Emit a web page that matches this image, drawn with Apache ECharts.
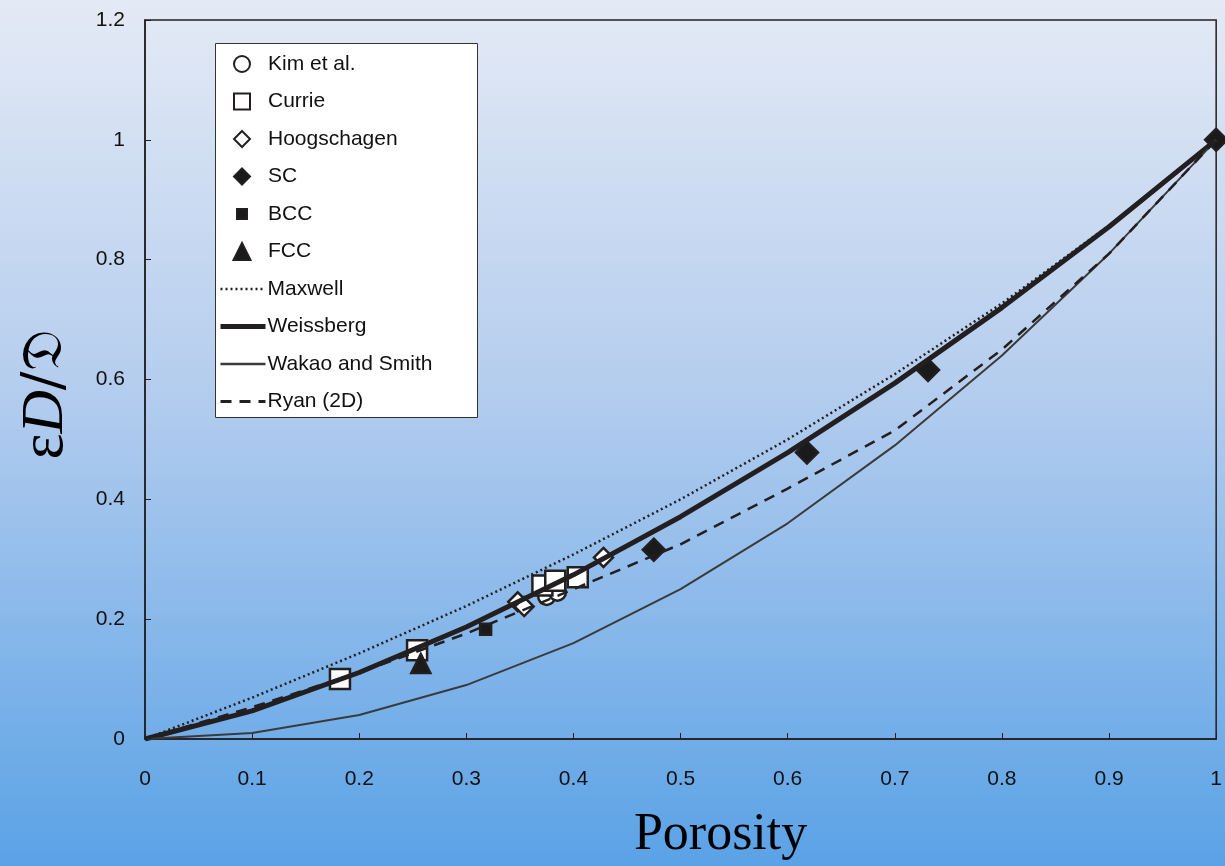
<!DOCTYPE html>
<html><head><meta charset="utf-8">
<script src="https://cdn.jsdelivr.net/npm/echarts@6/dist/echarts.min.js"></script>
<style>html,body{margin:0;padding:0;}#c{width:1225px;height:866px;}</style>
</head><body><div id="c"></div>
<script>
// ---- data ----
const kim = [[0.375, 0.238], [0.385, 0.245]];
const currie = [[0.182, 0.100], [0.254, 0.148], [0.371, 0.256], [0.383, 0.264], [0.404, 0.270]];
const hoogschagen = [[0.348, 0.229], [0.354, 0.221], [0.428, 0.303]];
const sc = [[0.475, 0.316], [0.618, 0.478], [0.731, 0.616], [1.0, 1.0]];
const bcc = [[0.318, 0.183]];
const fcc = [[0.2575, 0.126]];
const porosity = [0, 0.1, 0.2, 0.3, 0.4, 0.5, 0.6, 0.7, 0.8, 0.9, 1.0];
const maxwell = [0, 0.069, 0.143, 0.222, 0.308, 0.400, 0.500, 0.609, 0.727, 0.857, 1.0];
const weissberg = [0, 0.047, 0.111, 0.187, 0.274, 0.371, 0.478, 0.594, 0.720, 0.855, 1.0];
const wakaoSmith = [0, 0.010, 0.040, 0.090, 0.160, 0.250, 0.360, 0.490, 0.640, 0.810, 1.0];
const ryan2D = [0, 0.053, 0.111, 0.176, 0.250, 0.325, 0.418, 0.515, 0.650, 0.810, 1.0];
const xTicks = ['0','0.1','0.2','0.3','0.4','0.5','0.6','0.7','0.8','0.9','1'];
const yTicks = ['0','0.2','0.4','0.6','0.8','1','1.2'];

const pair = (xs, ys) => xs.map((x, i) => [x, ys[i]]);
const INK = '#231f20';
const FONT = 'Liberation Sans, Arial';
const chart = echarts.init(document.getElementById('c'));
const mk = (name, data, symbol, size, fill) => ({
  name, type: 'scatter', data, symbol, symbolSize: size,
  itemStyle: { color: fill, borderColor: INK, borderWidth: 2.5, opacity: 1 }, z: 2
});
const ln = (name, data, width, type, color) => ({
  name, type: 'line', data: pair(porosity, data), symbol: 'none', smooth: false,
  lineStyle: { color: color || INK, width, type }, itemStyle: { color: color || INK }, z: 3
});
const legendText = { fontFamily: FONT, fontSize: 21, color: '#111' };
const markerLegend = (names, left, top, size, padLeft) => ({
  orient: 'vertical', left, top, padding: 0, itemGap: 16.5,
  itemWidth: size, itemHeight: size, z: 5,
  itemStyle: { borderWidth: 2 },
  textStyle: Object.assign({ padding: [0, 0, 0, padLeft] }, legendText),
  data: names
});
chart.setOption({
  animation: false,
  backgroundColor: { type: 'linear', x: 0, y: 0, x2: 0, y2: 1,
    colorStops: [{ offset: 0, color: '#e4eaf5' }, { offset: 0.45, color: '#b4cdee' }, { offset: 1, color: '#5aa2e6' }] },
  grid: { left: 145, top: 20, right: 8, bottom: 125, show: true, borderColor: INK, borderWidth: 1.5, backgroundColor: 'transparent' },
  graphic: [{ type: 'rect', left: 215, top: 43, z: 3, shape: { width: 262, height: 374 },
    style: { fill: '#ffffff', stroke: '#333', lineWidth: 1 } }],
  legend: [
    markerLegend(['Kim et al.', 'Currie', 'Hoogschagen', 'SC'], 233, 53.5, 16, 13),
    markerLegend(['BCC'], 236, 203.5, 10, 16),
    markerLegend(['FCC'], 232.5, 241, 17, 12.5),
    {
      orient: 'vertical', left: 218, top: 278.5, padding: 0, itemGap: 16.5,
      itemWidth: 45, itemHeight: 16, z: 5,
      itemStyle: { color: 'rgba(0,0,0,0)', borderWidth: 0 },
      textStyle: Object.assign({ padding: [0, 0, 0, -3] }, legendText),
      data: [
        { name: 'Maxwell', lineStyle: { width: 2.5 } },
        { name: 'Weissberg', lineStyle: { width: 5 } },
        { name: 'Wakao and Smith', lineStyle: { width: 2.5 } },
        { name: 'Ryan (2D)', lineStyle: { width: 3 } }
      ]
    }
  ],
  xAxis: {
    type: 'value', min: 0, max: 1, interval: 0.1,
    name: 'Porosity', nameLocation: 'middle', nameGap: 70,
    nameTextStyle: { fontFamily: 'Liberation Serif, Times New Roman', fontSize: 52, color: '#000', padding: [0, 0, 0, 80] },
    axisLine: { show: true, lineStyle: { color: INK, width: 1.5 } },
    axisTick: { show: true, inside: true, length: 6, lineStyle: { color: INK } },
    axisLabel: { fontFamily: FONT, fontSize: 21, color: '#111', margin: 30,
      formatter: (v) => xTicks[Math.round(v * 10)] },
    splitLine: { show: false }
  },
  yAxis: {
    type: 'value', min: 0, max: 1.2, interval: 0.2,
    name: '{e|ε}{d|D}{s|/𝔇}', nameLocation: 'middle', nameGap: 68, nameRotate: 90,
    nameTextStyle: { padding: [0, 30, 0, 0], rich: {
      e: { fontFamily: 'Liberation Serif, DejaVu Serif', fontSize: 62, color: '#000' },
      d: { fontFamily: 'Liberation Serif, DejaVu Serif', fontStyle: 'italic', fontSize: 60, color: '#000' },
      s: { fontFamily: 'DejaVu Serif, Liberation Serif', fontSize: 56, color: '#000' } } },
    axisLine: { show: true, lineStyle: { color: INK, width: 1.5 } },
    axisTick: { show: true, inside: true, length: 6, lineStyle: { color: INK } },
    axisLabel: { fontFamily: FONT, fontSize: 21, color: '#111', margin: 20,
      formatter: (v) => yTicks[Math.round(v * 5)] },
    splitLine: { show: false }
  },
  series: [
    mk('Kim et al.', kim, 'circle', 17, '#ffffff'),
    mk('Currie', currie, 'rect', 20, '#ffffff'),
    mk('Hoogschagen', hoogschagen, 'diamond', 19, '#ffffff'),
    mk('SC', sc, 'diamond', 22, '#1a1a1a'),
    mk('BCC', bcc, 'rect', 11, '#1a1a1a'),
    mk('FCC', fcc, 'triangle', 19, '#1a1a1a'),
    ln('Maxwell', maxwell, 2.5, [2, 3]),
    ln('Weissberg', weissberg, 5, 'solid'),
    ln('Wakao and Smith', wakaoSmith, 2, 'solid', '#3a3a3a'),
    ln('Ryan (2D)', ryan2D, 2.5, [11, 8])
  ]
});
</script></body></html>
